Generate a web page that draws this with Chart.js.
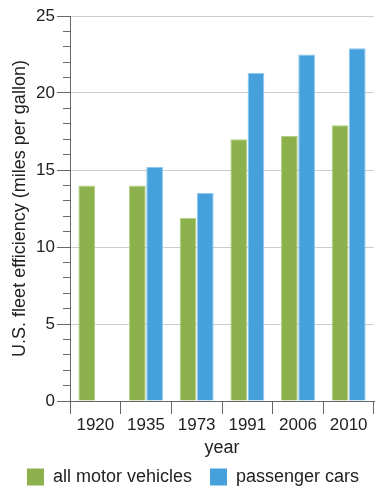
<!DOCTYPE html>
<html>
<head>
<meta charset="utf-8">
<script src="https://cdn.jsdelivr.net/npm/chart.js@4"></script>
<style>
  html, body { margin: 0; padding: 0; background: #ffffff; }
  canvas { display: block; }
</style>
</head>
<body>
<canvas id="c" width="386" height="500"></canvas>
<script>
const years = ["1920", "1935", "1973", "1991", "2006", "2010"];
const allMotorVehicles = [14.0, 14.0, 11.9, 17.0, 17.2, 17.9];
const passengerCars = [null, 15.2, 13.5, 21.3, 22.5, 22.9];
const seriesNames = ["all motor vehicles", "passenger cars"];
const yTitle = "U.S. fleet efficiency (miles per gallon)";
const xTitle = "year";

const FONT = "'Liberation Sans', Arial, Helvetica, sans-serif";
const TEXT = "#222222";
const AXIS = "#666666";

new Chart(document.getElementById("c"), {
  type: "bar",
  data: {
    labels: years,
    datasets: [
      {
        label: seriesNames[0],
        data: allMotorVehicles,
        backgroundColor: "#8cb04b",
        borderColor: "#b3cf85",
        borderWidth: 1,
        borderSkipped: "bottom",
        categoryPercentage: 0.68,
        barPercentage: 0.97
      },
      {
        label: seriesNames[1],
        data: passengerCars,
        backgroundColor: "#45a0dc",
        borderColor: "#8ec8ef",
        borderWidth: 1,
        borderSkipped: "bottom",
        categoryPercentage: 0.68,
        barPercentage: 0.97
      }
    ]
  },
  options: {
    responsive: false,
    animation: false,
    layout: { padding: { top: 16, right: 0, left: 0, bottom: 4 } },
    plugins: {
      tooltip: { enabled: false },
      legend: {
        position: "bottom",
        labels: {
          boxWidth: 17,
          boxHeight: 17,
          padding: 18,
          color: TEXT,
          font: { family: FONT, size: 18 },
          generateLabels: (chart) => chart.data.datasets.map((ds, i) => ({
            text: ds.label,
            fillStyle: ds.backgroundColor,
            strokeStyle: ds.backgroundColor,
            lineWidth: 0,
            fontColor: TEXT,
            datasetIndex: i,
            hidden: false
          }))
        }
      }
    },
    scales: {
      x: {
        offset: true,
        grid: {
          offset: true,
          drawOnChartArea: false,
          tickLength: 13,
          tickColor: AXIS
        },
        border: { color: AXIS, width: 1 },
        ticks: {
          color: TEXT,
          padding: 1,
          font: { family: FONT, size: 17 }
        },
        title: {
          display: true,
          text: xTitle,
          color: TEXT,
          padding: { top: 0, bottom: -9 },
          font: { family: FONT, size: 18 }
        },
        afterFit: (s) => { s.height = 49; }
      },
      y: {
        position: "left",
        weight: 1,
        min: 0,
        max: 25,
        ticks: {
          stepSize: 5,
          color: TEXT,
          padding: 2,
          font: { family: FONT, size: 17 }
        },
        grid: {
          color: "#cccccc",
          tickColor: AXIS,
          tickLength: 13
        },
        border: { color: AXIS, width: 1 },
        title: {
          display: true,
          text: yTitle,
          color: TEXT,
          padding: { top: 9, bottom: 0 },
          font: { family: FONT, size: 18 }
        },
        afterFit: (s) => { s.width = 70; }
      },
      yMinor: {
        position: "left",
        weight: 0,
        min: 0,
        max: 25,
        ticks: { stepSize: 1, display: false },
        grid: {
          drawOnChartArea: false,
          tickColor: AXIS,
          tickLength: 7
        },
        border: { display: false },
        afterFit: (s) => { s.width = 0; }
      },
      rightSpace: {
        position: "right",
        min: 0,
        max: 25,
        ticks: { display: false },
        grid: { display: false },
        border: { display: false },
        afterFit: (s) => { s.width = 12; }
      }
    }
  }
});
</script>
</body>
</html>
